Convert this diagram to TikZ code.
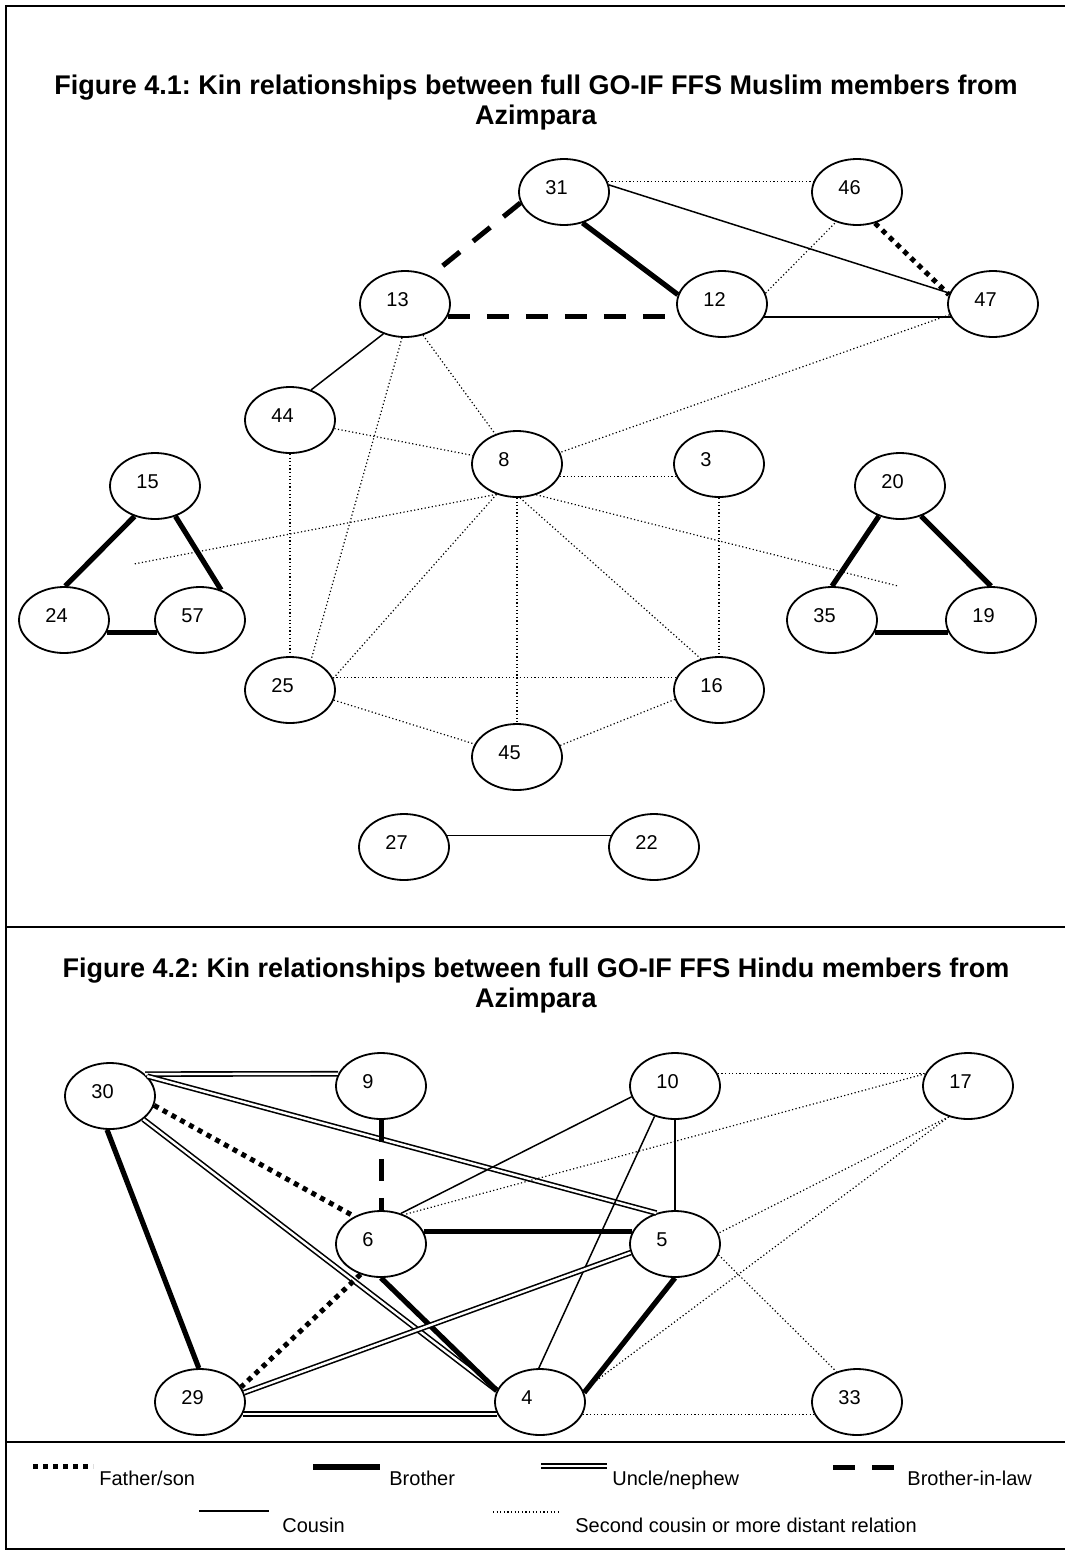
\documentclass[tikz,border=0pt]{standalone}
\usepackage{fontspec}
\setmainfont{Liberation Sans}
\usetikzlibrary{shapes.geometric}
\frenchspacing

\begin{document}
\begin{tikzpicture}[
        x=0.5pt, y=-0.5pt,
        every node/.style={font=\fontsize{10}{12}\selectfont},
        mitglied/.style={ellipse, draw, line width=0.9pt, minimum width=45pt,
                         minimum height=33pt, inner sep=0pt, text width=18.6pt,
                         align=left, text height=7.2pt, text depth=5pt},
        titel/.style={align=center, font=\fontsize{13.5}{15}\selectfont\bfseries},
        vatersohn/.style={line width=2.5pt, dash pattern=on 2.5pt off 2.5pt},
        bruder/.style={line width=2.6pt},
        onkel/.style={line width=0.8pt, double, double distance=1.2pt},
        schwager/.style={line width=2.5pt, dash pattern=on 11pt off 8.5pt},
        vetter/.style={line width=0.75pt},
        entfernt/.style={line width=0.6pt, dash pattern=on 0.6pt off 1.2pt},
        legende/.style={anchor=base west, inner sep=0pt},
        rahmen/.style={line width=1.3pt}
    ]
        \useasboundingbox (0,0) rectangle (1065,1553);
        \draw[rahmen] (6,6) rectangle (1075,1549);
        \draw[rahmen] (6,927) -- (1075,927);
        \draw[rahmen] (6,1442) -- (1075,1442);

        \node[titel] (titel1) at (536,103) {Figure 4.1: Kin relationships between full GO-IF FFS Muslim members from\\Azimpara};
        \node[titel] (titel2) at (536,986) {Figure 4.2: Kin relationships between full GO-IF FFS Hindu members from\\Azimpara};

        \node[mitglied] (m31) at (564,192) {31};
        \node[mitglied] (m46) at (857,192) {46};
        \node[mitglied] (m13) at (405,304) {13};
        \node[mitglied] (m12) at (722,304) {12};
        \node[mitglied] (m47) at (993,304) {47};
        \node[mitglied] (m44) at (290,420) {44};
        \node[mitglied] (m8)  at (517,464) {8};
        \node[mitglied] (m3)  at (719,464) {3};
        \node[mitglied] (m15) at (155,486) {15};
        \node[mitglied] (m20) at (900,486) {20};
        \node[mitglied] (m24) at (64,620)  {24};
        \node[mitglied] (m57) at (200,620) {57};
        \node[mitglied] (m35) at (832,620) {35};
        \node[mitglied] (m19) at (991,620) {19};
        \node[mitglied] (m25) at (290,690) {25};
        \node[mitglied] (m16) at (719,690) {16};
        \node[mitglied] (m45) at (517,757) {45};
        \node[mitglied] (m27) at (404,847) {27};
        \node[mitglied] (m22) at (654,847) {22};
        \coordinate (links)  at (134,564);
        \coordinate (rechts) at (898,586);

        \draw[entfernt] (m31.13) -- (m46.167);
        \draw[vetter] (m31.9) -- (m47.166);
        \draw[vatersohn] (m46.-60) -- (m47.168);
        \draw[bruder] (m31.-59) -- (m12.168);
        \draw[schwager] (m31.194) -- (m13.48);
        \draw[schwager] (m13.-16) -- (m12.196);
        \draw[vetter] (m12.-17) -- (m47.197);
        \draw[entfernt] (m12.14) -- (m46.235);
        \draw[entfernt] (m47.194) -- (m8.15);
        \draw[vetter] (m13.234) -- (m44.55);
        \draw[entfernt] (m13.265) -- (m25.55);
        \draw[entfernt] (m13.300) -- (m8.126);
        \draw[entfernt] (m44) -- (m8);
        \draw[entfernt] (m44) -- (m25);
        \draw[entfernt] (m8.-16) -- (m3.196);
        \draw[entfernt] (m8.236) -- (links);
        \draw[entfernt] (m8.302) -- (rechts);
        \draw[entfernt] (m8.236) -- (m25.15);
        \draw[entfernt] (m8) -- (m45);
        \draw[entfernt] (m8.-85) -- (m16.120);
        \draw[entfernt] (m3) -- (m16);
        \draw[entfernt] (m25.16) -- (m16.164);
        \draw[entfernt] (m25.-13) -- (m45.163);
        \draw[entfernt] (m16.192) -- (m45.15);
        \draw[bruder] (m15.236) -- (m24.88);
        \draw[bruder] (m15.304) -- (m57.55);
        \draw[bruder] (m24.-16) -- (m57.196);
        \draw[bruder] (m20.235) -- (m35.90);
        \draw[bruder] (m20.305) -- (m19.90);
        \draw[bruder] (m35.-16) -- (m19.196);
        \draw[vetter] (m27.15) -- (m22.165);

        \node[mitglied] (m30) at (110,1096) {30};
        \node[mitglied] (m9)  at (381,1086) {9};
        \node[mitglied] (m10) at (675,1086) {10};
        \node[mitglied] (m17) at (968,1086) {17};
        \node[mitglied] (m6)  at (381,1244) {6};
        \node[mitglied] (m5)  at (675,1244) {5};
        \node[mitglied] (m29) at (200,1402) {29};
        \node[mitglied] (m4)  at (540,1402) {4};
        \node[mitglied] (m33) at (857,1402) {33};

        \draw[onkel] (m30.32) -- (m9.164);
        \draw[onkel] (m30.28) -- (m5.121);
        \draw[vatersohn] (m30.-12) -- (m6.134);
        \draw[onkel] (m30.-35) -- (m4.165);
        \draw[bruder] (m30.265) -- (m29.92);
        \draw[schwager] (m9) -- (m6);
        \draw[vetter] (m10.194) -- (m6.57);
        \draw[vetter] (m10.236) -- (m4.92);
        \draw[vetter] (m10) -- (m5);
        \draw[entfernt] (m10.16) -- (m17.164);
        \draw[entfernt] (m17.164) -- (m6.52);
        \draw[entfernt] (m17.238) -- (m5.14);
        \draw[entfernt] (m17.238) -- (m4.15);
        \draw[bruder] (m6.16) -- (m5.164);
        \draw[bruder] (m6.270) -- (m4.165);
        \draw[vatersohn] (m6.236) -- (m29.20);
        \draw[onkel] (m5.191) -- (m29.12);
        \draw[bruder] (m5.270) -- (m4.12);
        \draw[entfernt] (m5.346) -- (m33.124);
        \draw[onkel] (m29.-16) -- (m4.196);
        \draw[entfernt] (m4.-16) -- (m33.196);

        % Legende
        \coordinate (lfa) at (33,1466);  \coordinate (lfb) at (93,1466);
        \coordinate (lba) at (313,1467); \coordinate (lbb) at (380,1467);
        \coordinate (loa) at (541,1466); \coordinate (lob) at (607,1466);
        \coordinate (lsa) at (833,1467); \coordinate (lsb) at (895,1467);
        \coordinate (lva) at (199,1511); \coordinate (lvb) at (269,1511);
        \coordinate (lea) at (493,1512); \coordinate (leb) at (559,1512);
        \draw[vatersohn] (lfa) -- (lfb);
        \draw[bruder] (lba) -- (lbb);
        \draw[onkel] (loa) -- (lob);
        \draw[schwager] (lsa) -- (lsb);
        \draw[vetter] (lva) -- (lvb);
        \draw[entfernt] (lea) -- (leb);
        \node[legende] (tf) at (99,1485)  {Father/son};
        \node[legende] (tb) at (389,1485) {Brother};
        \node[legende] (to) at (612,1485) {Uncle/nephew};
        \node[legende] (ts) at (907,1485) {Brother-in-law};
        \node[legende] (tv) at (282,1532) {Cousin};
        \node[legende] (te) at (575,1532) {Second cousin or more distant relation};
    \end{tikzpicture}
\end{document}
